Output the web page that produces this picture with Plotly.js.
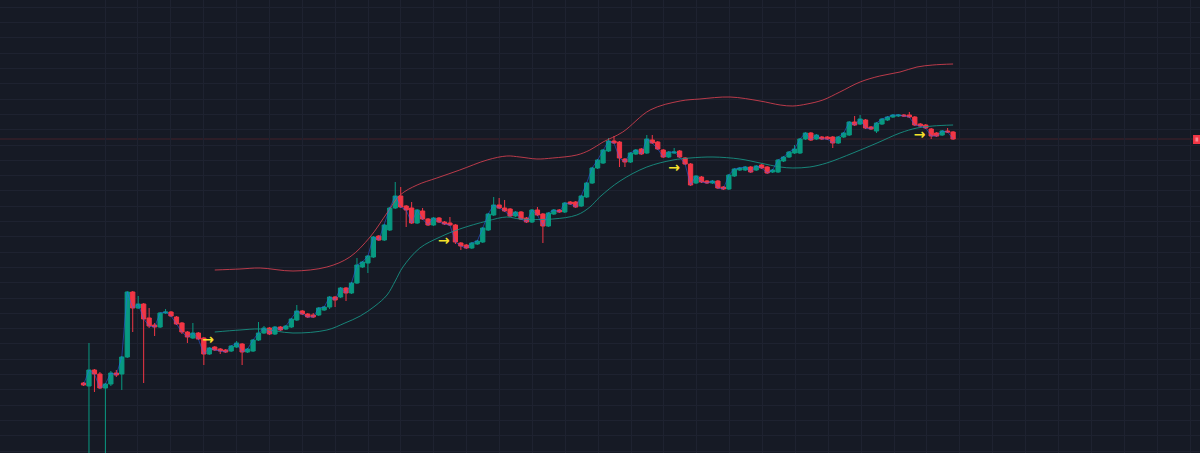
<!DOCTYPE html>
<html>
<head>
<meta charset="utf-8">
<script src="https://cdn.plot.ly/plotly-3.0.1.min.js"></script>
<style>html,body{margin:0;padding:0;background:#161a25;overflow:hidden}#chart{width:1200px;height:453px}</style>
</head>
<body>
<div id="chart"></div>
<script>
// OHLC values (one candle per bar index)
const openVals = [70,67,83,79,65,69,80,79,96,161,145,149,135,128,126,140,141,136,130,121,115,120,115,99,106,104,103,102,106,109,101,102,113,120,125,119,126,124,126,133,142,139,138,138,143,146,156,156,165,160,170,186,190,196,217,213,223,245,257,247,245,230,242,234,228,235,231,230,228,210,208,205,209,211,223,238,248,245,244,237,241,235,231,243,239,227,239,243,241,251,251,247,256,270,285,290,302,312,311,294,291,299,304,300,313,311,303,296,300,302,295,289,270,276,272,270,272,266,264,277,283,283,286,283,288,286,281,281,292,296,300,300,314,320,314,316,316,316,310,316,318,331,329,333,326,322,329,333,336,337,338,338,336,329,328,324,320,318,322,321];
const highVals = [71,110,84,81,70,82,83,97,162,162,157,150,145,130,141,144,142,137,131,122,130,121,116,106,107,105,104,108,112,110,105,114,131,127,126,127,127,128,135,148,143,140,140,146,147,157,157,166,166,171,195,192,198,217,218,229,246,271,266,248,251,244,245,235,236,236,232,236,229,211,209,211,213,226,240,256,255,253,245,242,242,236,244,246,240,241,244,244,251,252,252,258,271,286,294,304,315,317,312,295,301,304,305,318,318,312,304,302,305,303,296,290,278,277,273,273,273,267,279,285,286,287,287,288,289,287,284,294,297,302,308,315,321,321,319,317,317,317,317,321,332,337,338,334,327,331,335,337,339,339,339,341,337,330,329,325,321,323,325,322];
const lowVals = [67,-7,61,64,-7,67,76,63,95,121,144,70,125,117,125,139,136,128,119,110,114,113,88,98,102,99,100,101,105,88,100,101,112,119,118,118,122,123,125,132,138,135,135,137,142,144,146,155,152,159,169,185,180,195,212,212,222,244,245,226,229,229,233,227,227,230,228,227,209,203,204,204,208,210,222,237,244,241,236,236,233,230,230,237,210,226,238,240,240,248,245,246,255,269,284,289,301,309,286,286,290,298,298,299,309,303,295,295,299,295,288,267,269,270,269,269,264,263,263,276,282,282,280,282,284,279,280,280,291,295,299,299,313,312,313,313,313,305,309,315,317,327,328,324,323,320,328,332,335,336,336,335,327,326,324,314,316,317,320,313];
const closeVals = [68,83,79,65,69,80,78,96,161,145,149,134,127,126,140,141,137,129,121,116,120,114,99,105,103,102,101,107,110,101,104,113,120,125,119,126,123,127,134,142,139,136,136,145,146,156,153,165,160,170,188,191,197,216,213,228,245,257,246,243,230,243,234,228,235,231,229,228,211,207,205,210,212,225,239,248,245,242,237,241,234,231,243,238,227,240,243,241,250,249,246,257,270,285,293,303,312,310,295,291,300,303,299,314,310,304,296,301,301,296,289,268,277,271,270,272,265,264,278,284,285,286,281,287,285,280,283,293,296,301,304,314,320,313,318,314,314,310,316,320,331,328,334,325,324,330,334,336,338,338,337,336,328,327,325,317,317,322,321,314];

// Channel lines (bar index, value)
const bandX = [24.0,28.6,32.3,38.3,44.5,48.7,52.4,55.5,57.9,61.0,64.6,68.8,73.8,77.4,79.8,82.9,85.8,90.2,92.6,95.0,98.6,103.6,109.1,112.7,118.2,123.7,127.4,129.7,132.3,135.2,138.3,142.0,145.6,149.3,152.4,155.3,159.0];
const upperBand = [183,184,185,182,186,196,216,240,258,268,275,283,293,297,296,294,295,298,303,311,321,343,352,354,356,352,348,347,349,353,361,371,377,381,386,388,389];
const lowerX = [24.0,28.6,32.3,38.3,44.5,47.8,50.6,53.3,55.5,57.0,58.4,61.5,65.2,68.8,73.8,77.4,79.8,85.8,90.2,92.6,94.4,98.1,103.0,107.8,110.9,115.1,120.0,123.7,127.4,129.7,132.8,135.9,140.7,145.1,149.3,152.4,155.3,159.0];
const lowerBand = [121,123,124,120,123,130,137,147,158,172,186,205,216,224,232,236,234,234,238,246,256,272,286,293,295,296,294,290,286,285,286,290,300,310,320,325,327,328];

// Signal arrows
const arrowX = [22.8, 65.9, 108.0, 152.9];
const arrowY = [113, 212, 285, 318];
const lastPrice = 314;

const idx = closeVals.map((_, i) => i);

const GREEN = '#089981', RED = '#f23645';

const traces = [
  {type:'scatter', mode:'lines', x:bandX, y:upperBand, line:{color:'rgba(214,64,80,0.85)', width:1, shape:'spline'}, hoverinfo:'skip'},
  {type:'scatter', mode:'lines', x:lowerX, y:lowerBand, line:{color:'rgba(24,150,135,0.85)', width:1, shape:'spline'}, hoverinfo:'skip'},
  {type:'scatter', mode:'lines', x:idx, y:closeVals, line:{color:'rgba(41,98,255,0.5)', width:1}, hoverinfo:'skip'},
  {type:'candlestick', x:idx, open:openVals, high:highVals, low:lowVals, close:closeVals,
   increasing:{line:{color:GREEN, width:1}, fillcolor:GREEN},
   decreasing:{line:{color:RED, width:1}, fillcolor:RED},
   whiskerwidth:0, hoverinfo:'skip'},
  {type:'scatter', mode:'text', x:arrowX, y:arrowY, text:arrowX.map(()=> '<b>→</b>'),
   textfont:{color:'#f5e12a', size:14, family:'DejaVu Sans'}, hoverinfo:'skip'}
];

// grid positions (layout only)
const xGrid = [];
for (let t = 3.93; t < 205; t += 6.012) xGrid.push(t);

const layout = {
  width:1200, height:453,
  margin:{l:0,r:0,t:0,b:0,pad:0},
  paper_bgcolor:'#161a25', plot_bgcolor:'#161a25',
  showlegend:false,
  boxgap:0.22, boxgroupgap:0,
  xaxis:{range:[-15.27, 204.15], tickmode:'array', tickvals:xGrid, showticklabels:false, ticks:'',
         showgrid:true, gridcolor:'#1e2230', gridwidth:1, zeroline:false, showline:false,
         rangeslider:{visible:false}, fixedrange:true},
  yaxis:{range:[0,453], tick0:2.0, dtick:15.3, tickmode:'linear', showticklabels:false, ticks:'',
         showgrid:true, gridcolor:'#1e2230', gridwidth:1, zeroline:false, showline:false, fixedrange:true},
  shapes:[
    {type:'line', xref:'paper', x0:0, x1:1, yref:'y', y0:lastPrice, y1:lastPrice,
     line:{color:'rgba(242,54,69,0.22)', width:1}, layer:'below'},
    {type:'rect', xref:'paper', x0:0.9942, x1:1, yref:'y', y0:lastPrice-5, y1:lastPrice+4,
     fillcolor:RED, line:{width:0}},
    {type:'rect', xref:'paper', x0:0.9962, x1:0.9985, yref:'y', y0:lastPrice-2.5, y1:lastPrice+1.5,
     fillcolor:'rgba(255,200,205,0.55)', line:{width:0}}
  ]
};

Plotly.newPlot('chart', traces, layout, {displayModeBar:false, staticPlot:true});
</script>
</body>
</html>
